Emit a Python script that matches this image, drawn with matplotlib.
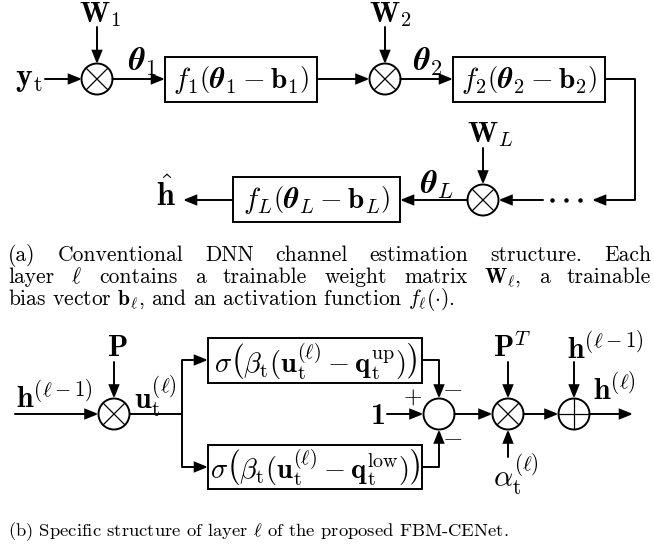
import matplotlib
matplotlib.use('Agg')
import matplotlib.pyplot as plt
from matplotlib.patches import Circle, Rectangle, FancyArrowPatch

plt.rcParams['mathtext.fontset'] = 'cm'

# labels of the top diagram (a)
top_inputs = [r'$\mathbf{W}_1$', r'$\mathbf{W}_2$', r'$\mathbf{W}_L$']
top_thetas = [r'$\boldsymbol{\theta}_1$', r'$\boldsymbol{\theta}_2$', r'$\boldsymbol{\theta}_L$']
top_boxes = [r'$f_1\left(\boldsymbol{\theta}_1-\mathbf{b}_1\right)$',
             r'$f_2\left(\boldsymbol{\theta}_2-\mathbf{b}_2\right)$',
             r'$f_L\left(\boldsymbol{\theta}_L-\mathbf{b}_L\right)$']
top_in = r'$\mathbf{y}_\mathrm{t}$'
top_out = r'$\hat{\mathbf{h}}$'

# labels of the bottom diagram (b)
bot_in = r'$\mathbf{h}^{(\ell-1)}$'
bot_u = r'$\mathbf{u}_\mathrm{t}^{(\ell)}$'
bot_boxes = [r'$\sigma\left(\beta_\mathrm{t}(\mathbf{u}_\mathrm{t}^{(\ell)}-\mathbf{q}_\mathrm{t}^{\mathrm{up}})\right)$',
             r'$\sigma\left(\beta_\mathrm{t}(\mathbf{u}_\mathrm{t}^{(\ell)}-\mathbf{q}_\mathrm{t}^{\mathrm{low}})\right)$']
bot_top_labels = [r'$\mathbf{P}$', r'$\mathbf{P}^T$', r'$\mathbf{h}^{(\ell-1)}$']
bot_alpha = r'$\alpha_\mathrm{t}^{(\ell)}$'
bot_one = '1'
bot_out = r'$\mathbf{h}^{(\ell)}$'

cap_a = [["(a)", "Conventional", "DNN", "channel", "estimation", "structure.", "Each"],
         ["layer", r"$\ell$", "contains", "a", "trainable", "weight", "matrix", r"$\mathbf{W}_\ell$,", "a", "trainable"]]
cap_a_last = r"bias vector $\mathbf{b}_\ell$, and an activation function $f_\ell(\cdot)$."
cap_b = r"(b) Specific structure of layer $\ell$ of the proposed FBM-CENet."

fig = plt.figure(figsize=(6.54, 5.5), dpi=100)
ax = fig.add_axes([0, 0, 1, 1])
ax.set_xlim(0, 654)
ax.set_ylim(550, 0)
ax.axis('off')

LW = 1.4


def arrow(p, q, head=True):
    style = '-|>,head_length=0.55,head_width=0.22' if head else '-'
    a = FancyArrowPatch(p, q, arrowstyle=style, mutation_scale=14, lw=LW,
                        color='k', shrinkA=0, shrinkB=0, joinstyle='miter')
    ax.add_patch(a)


def line(xs, ys):
    ax.plot(xs, ys, color='k', lw=LW, solid_capstyle='butt')


def node(x, y, kind, r=15.5):
    ax.add_patch(Circle((x, y), r, fill=False, lw=LW, color='k'))
    d = r * 0.68
    if kind == 'x':
        ax.plot([x - d, x + d], [y - d, y + d], color='k', lw=0.9)
        ax.plot([x - d, x + d], [y + d, y - d], color='k', lw=0.9)
    elif kind == '+':
        ax.plot([x - r * 0.95, x + r * 0.95], [y, y], color='k', lw=0.9)
        ax.plot([x, x], [y - r * 0.95, y + r * 0.95], color='k', lw=0.9)


def box(x0, x1, y0, y1, label, size):
    ax.add_patch(Rectangle((x0, y0), x1 - x0, y1 - y0, fill=False, lw=LW, color='k'))
    ax.text((x0 + x1) / 2, (y0 + y1) / 2 + 1, label, ha='center', va='center', fontsize=size)


# ---- diagram (a) ----
S = 23
SW = 21
SB = 21
ax.text(29, 78, top_in, ha='center', va='center', fontsize=S)
arrow((45, 79), (82, 79))
node(97, 79, 'x')
ax.text(100, 22, top_inputs[0], ha='center', va='baseline', fontsize=SW)
arrow((97, 27), (97, 64))
ax.text(142, 62, top_thetas[0], ha='center', va='center', fontsize=S)
arrow((112.5, 79), (165, 79))
box(165, 317, 57, 102, top_boxes[0], SB)
arrow((317, 79), (369.5, 79))
node(385, 79, 'x')
ax.text(390, 22, top_inputs[1], ha='center', va='baseline', fontsize=SW)
arrow((385, 27), (385, 64))
ax.text(428, 62, top_thetas[1], ha='center', va='center', fontsize=S)
arrow((400.5, 79), (453, 79))
box(453, 605, 57, 102, top_boxes[1], SB)
line([605, 635, 635], [79, 79, 200])
arrow((635, 200), (592, 200))
for xd in [552, 566, 580]:
    ax.plot(xd, 200, 'o', color='k', ms=2.2)
arrow((543, 200), (498.5, 200))
node(483, 200, 'x')
ax.text(490, 142, top_inputs[2], ha='center', va='baseline', fontsize=SW)
arrow((483, 148), (483, 184.5))
ax.text(437, 185, top_thetas[2], ha='center', va='center', fontsize=S)
arrow((467.5, 200), (400, 200))
box(233, 400, 177, 222, top_boxes[2], SB)
arrow((233, 200), (183, 200))
ax.text(166, 206, top_out, ha='center', va='baseline', fontsize=S)

# ---- caption (a) ----
CA = 15.5
CB = 13.4
r = fig.canvas.get_renderer()


def justify(words, x0, x1, y):
    ts = [ax.text(0, y, w, fontsize=CA, family='cmr10', va='baseline') for w in words]
    ws = [t.get_window_extent(r).width for t in ts]
    gap = (x1 - x0 - sum(ws)) / (len(ws) - 1)
    x = x0
    for t, w in zip(ts, ws):
        t.set_x(x)
        x += w + gap


justify(cap_a[0], 8, 651, 261)
justify(cap_a[1], 8, 651, 283)
ax.text(8, 305, cap_a_last, fontsize=CA, family='cmr10', va='baseline')

# ---- diagram (b) ----
B = 21.5
BB = 20.5
ax.text(54, 397, bot_in, ha='center', va='center', fontsize=B)
arrow((15, 414), (98.5, 414))
node(114, 414, 'x')
ax.text(117, 348, bot_top_labels[0], ha='center', va='center', fontsize=B)
arrow((114, 362), (114, 398.5))
ax.text(155, 396, bot_u, ha='center', va='center', fontsize=B)
line([129.5, 182], [414, 414])
line([182, 182], [360, 467])
arrow((182, 360), (208, 360))
arrow((182, 467), (208, 467))
box(208, 422, 338, 383, bot_boxes[0], BB)
box(208, 422, 445, 489, bot_boxes[1], BB)
line([422, 439], [360, 360])
arrow((439, 360), (439, 398.5))
line([422, 439], [467, 467])
arrow((439, 467), (439, 429.5))
node(439, 414, 'o')
ax.text(378, 416, bot_one, ha='center', va='center', fontsize=B, family='cmb10')
arrow((387, 414), (423.5, 414))
ax.text(413, 397, r'$+$', ha='center', va='center', fontsize=17)
ax.text(452, 388, r'$-$', ha='center', va='center', fontsize=19)
ax.text(452, 437, r'$-$', ha='center', va='center', fontsize=19)
arrow((454.5, 414), (492.5, 414))
node(508, 414, 'x')
ax.text(512, 348, bot_top_labels[1], ha='center', va='center', fontsize=B)
arrow((508, 362), (508, 398.5))
ax.text(516, 474, bot_alpha, ha='center', va='center', fontsize=B)
arrow((508, 457), (508, 429.5))
arrow((523.5, 414), (558.5, 414))
node(574, 414, '+')
ax.text(605, 348, bot_top_labels[2], ha='center', va='center', fontsize=B)
arrow((574, 362), (574, 398.5))
arrow((589.5, 414), (633, 414))
ax.text(593, 389, bot_out, ha='left', va='center', fontsize=B)

# ---- caption (b) ----
ax.text(8, 536, cap_b, fontsize=CB, family='cmr10', va='baseline')

fig.savefig('out.png', dpi=100)
